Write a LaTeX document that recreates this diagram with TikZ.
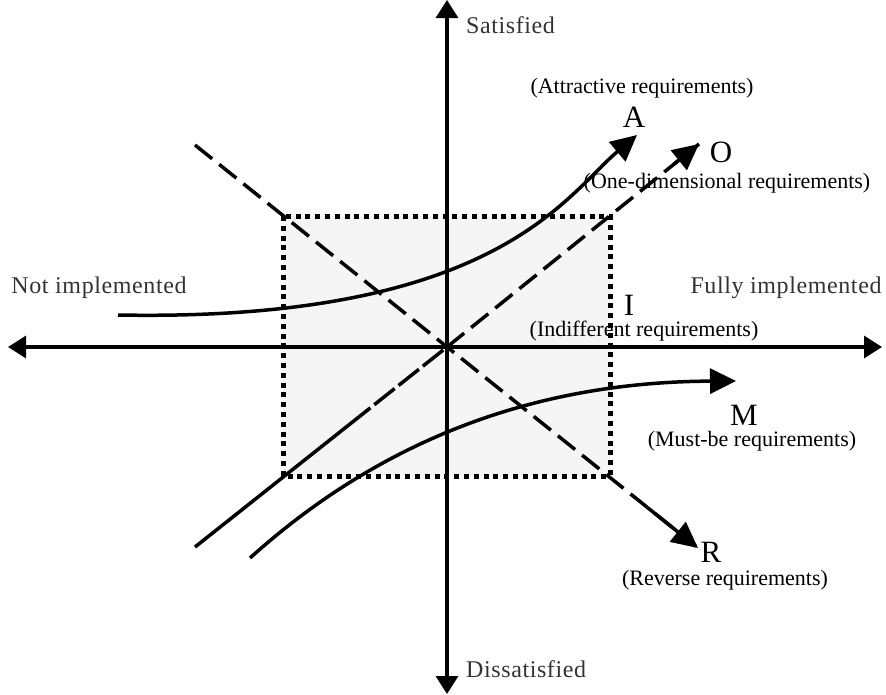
\documentclass[tikz,border=0pt]{standalone}
\usepackage{fontspec}
\setmainfont{Liberation Serif}
\usetikzlibrary{arrows.meta,calc}
\definecolor{boxgray}{HTML}{F5F5F5}
\definecolor{labgray}{HTML}{333333}
\begin{document}
\begin{tikzpicture}[x=1pt,y=-1pt,
  axisline/.style={line width=3.2pt, {Triangle[length=18pt,width=22pt]}-{Triangle[length=18pt,width=22pt]}},
  curvearrow/.style={line width=3.5pt, -{Triangle[length=26pt,width=25pt]}},
  plainline/.style={line width=3.5pt},
  dashline/.style={line width=3.5pt, dash pattern=on 22pt off 9pt},
  boxfill/.style={fill=boxgray, draw=none},
  boxline/.style={line width=5pt, dash pattern=on 5pt off 4.8pt},
  axlabel/.style={font=\fontsize{24}{28}\selectfont\addfontfeature{LetterSpace=2.5}, text=labgray, inner sep=0pt},
  reqlabel/.style={font=\fontsize{22}{26}\selectfont, inner sep=0pt},
  letterlabel/.style={font=\fontsize{31}{34}\selectfont, inner sep=0pt, text depth=0pt}]
\useasboundingbox (0,0) rectangle (886,694);
% key points
\coordinate (org) at (447,347);
\coordinate (top) at (447,0);
\coordinate (bot) at (447,694);
\coordinate (lft) at (8,347);
\coordinate (rgt) at (882,347);
\coordinate (Rs) at (195,145);
\coordinate (Rt) at (698,548);
\coordinate (Os) at (195,547);
\coordinate (Om) at (350,424);
\coordinate (Ot) at (699,144);
\coordinate (As) at (118,315);
\coordinate (At) at (637,135);
\coordinate (Ms) at (250,558);
\coordinate (Mt) at (736,381);
\coordinate (bxa) at (283,216);
\coordinate (bxb) at (610,476);
% box fill
\path[boxfill] (bxa) rectangle (bxb);
% axes
\draw[axisline] (bot) -- (top);
\draw[axisline] (lft) -- (rgt);
% R line
\draw[dashline] (Rs) -- (Rt);
\draw[curvearrow] ($(Rt)!0.1!(Rs)$) -- (Rt);
% O line
\draw[plainline] (Os) -- (Om);
\draw[plainline, dash pattern=on 26pt off 5pt] (Om) -- (org);
\draw[dashline] (org) -- (Ot);
\draw[curvearrow] ($(Ot)!0.1!(org)$) -- (Ot);
% A curve
\draw[curvearrow] (As) .. controls (495,322) and (565,196) .. (At);
% M curve
\draw[curvearrow] (Ms) .. controls (370,450) and (520,382) .. (Mt);
% dotted box border
\draw[boxline] (bxa) rectangle (bxb);
% labels
\node[axlabel, anchor=base west] (sat) at (466,33) {Satisfied};
\node[axlabel, anchor=base west] (dis) at (466,677) {Dissatisfied};
\node[axlabel, anchor=base] (notimp) at (99,293) {Not implemented};
\node[axlabel, anchor=base] (fullimp) at (786,293) {Fully implemented};
\node[reqlabel, anchor=base] (attr) at (642,93) {(Attractive requirements)};
\node[letterlabel, anchor=base] (la) at (634,127) {A};
\node[letterlabel, anchor=base] (lo) at (721,162) {O};
\node[reqlabel, anchor=base] (one) at (727,188) {(One-dimensional requirements)};
\node[letterlabel, anchor=base] (li) at (629,315) {I};
\node[reqlabel, anchor=base] (ind) at (644,336) {(Indifferent requirements)};
\node[letterlabel, anchor=base] (lm) at (744,425) {M};
\node[reqlabel, anchor=base] (must) at (752,446) {(Must-be requirements)};
\node[letterlabel, anchor=base] (lr) at (711,562) {R};
\node[reqlabel, anchor=base] (rev) at (725,585) {(Reverse requirements)};
\end{tikzpicture}
\end{document}
